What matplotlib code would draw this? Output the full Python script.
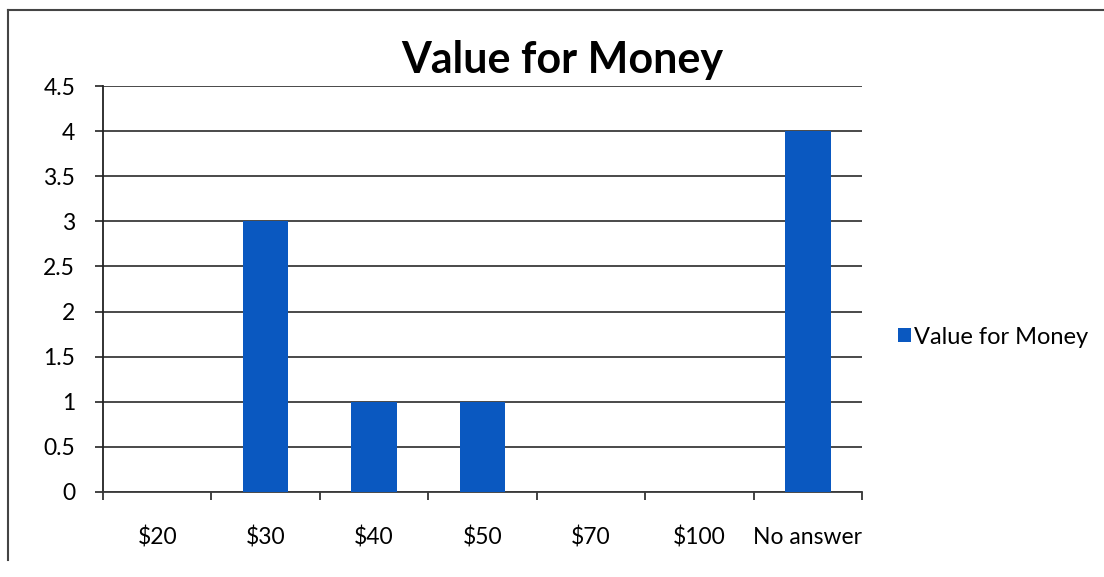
import matplotlib
matplotlib.use("Agg")
import matplotlib.pyplot as plt
from matplotlib.lines import Line2D
import numpy as np

categories = ["$20", "$30", "$40", "$50", "$70", "$100", "No answer"]
values = [0, 3, 1, 1, 0, 0, 4]
yticks = [0, 0.5, 1, 1.5, 2, 2.5, 3, 3.5, 4, 4.5]
ytick_labels = ["0", "0.5", "1", "1.5", "2", "2.5", "3", "3.5", "4", "4.5"]
series_name = "Value for Money"
title = "Value for Money"

plt.rcParams['font.family'] = ['Lato', 'DejaVu Sans']

fig = plt.figure(figsize=(11.04, 5.77), dpi=100)
ax = fig.add_axes([103/1104, 1-492/577, (862-103)/1104, (492-86)/577])

x = np.arange(len(categories))
bars = ax.bar(x, values, width=0.42, color='#0a58c0', zorder=3, label=series_name)

ax.set_xlim(-0.5, len(categories) - 0.5)
ax.set_ylim(0, 4.5)
ax.set_yticks(yticks)
ax.set_yticklabels(ytick_labels, fontsize=16.5)
ax.yaxis.grid(True, color='#3a3a3a', linewidth=1.3, zorder=0)
ax.set_axisbelow(True)

ax.set_xticks(np.arange(len(categories) + 1) - 0.5)
ax.set_xticklabels([])
ax.set_xticks(x, minor=True)
ax.set_xticklabels(categories, minor=True, fontsize=16.5)
ax.tick_params(axis='x', which='major', length=6, width=1.2, direction='out', color='#222')
ax.tick_params(axis='x', which='minor', length=0, pad=25)
ax.tick_params(axis='y', length=6, width=1.2, color='#222', pad=14)

for s in ['top', 'right']:
    ax.spines[s].set_visible(False)
ax.spines['left'].set_color('#222')
ax.spines['left'].set_linewidth(1.3)
ax.spines['bottom'].set_color('#3a3a3a')
ax.spines['bottom'].set_linewidth(1.3)

fig.text(562/1104, 1-60/577, title, ha='center', va='center', fontsize=31, fontweight='bold')

leg = fig.legend(handles=[bars], labels=[series_name], loc='center left',
                 bbox_to_anchor=(886/1104, 1-337/577), frameon=False, fontsize=17,
                 handlelength=0.55, handleheight=0.55, handletextpad=0.15, borderpad=0)

# scanned frame border lines
fig.add_artist(Line2D([8/1104, 1.0], [1-10/577, 1-10/577], color='#444', lw=1.5))
fig.add_artist(Line2D([8/1104, 8/1104], [1-10/577, 1-560/577], color='#444', lw=1.5))

fig.savefig("out.png", dpi=100)
